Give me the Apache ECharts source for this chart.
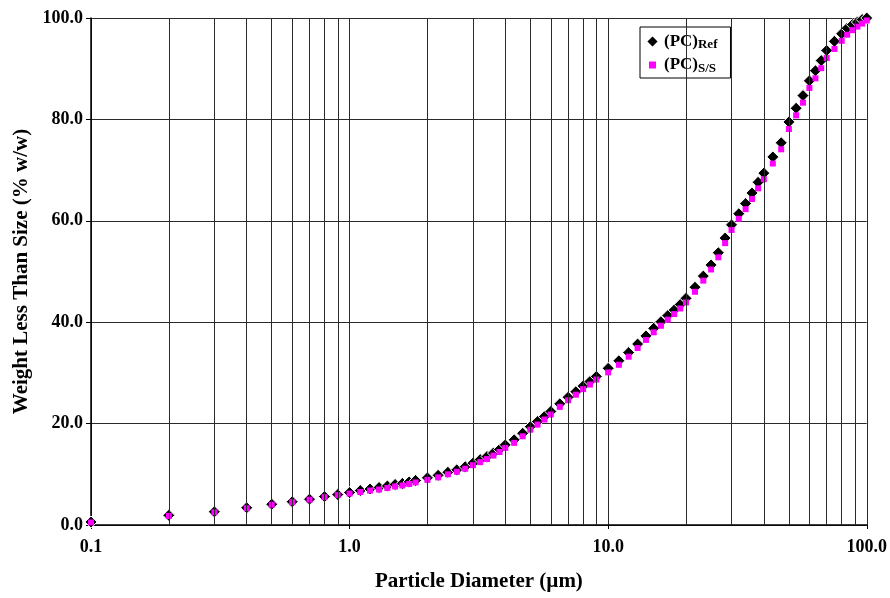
<!DOCTYPE html>
<html>
<head>
<meta charset="utf-8">
<script src="https://cdn.jsdelivr.net/npm/echarts@6.0.0/dist/echarts.min.js"></script>
<style>
    html, body { margin: 0; padding: 0; background: #fff; }
    #chart { width: 890px; height: 598px; }
</style>
</head>
<body>
<div id="chart"></div>
<script>
    // particle diameters (um)
    var sizes = [
        0.1, 0.2, 0.3, 0.4, 0.5, 0.6, 0.7, 0.8, 0.9, 1.0,
        1.1, 1.2, 1.3, 1.4, 1.5, 1.6, 1.7, 1.8,
        2.0, 2.2, 2.4, 2.6, 2.8, 3.0, 3.2, 3.4, 3.6, 3.8, 4.0,
        4.33, 4.67, 5.0, 5.33, 5.67, 6.0,
        6.5, 7.0, 7.5, 8.0, 8.5, 9.0,
        10, 11, 12, 13, 14, 15, 16, 17, 18, 19, 20,
        21.67, 23.33, 25, 26.67, 28.33, 30,
        32, 34, 36, 38, 40,
        43.33, 46.67, 50, 53.33, 56.67, 60, 63.33, 66.67, 70,
        75, 80, 84, 88, 92, 96, 100
    ];
    // (PC)Ref cumulative % w/w
    var refVals = [
        0.6, 1.9, 2.6, 3.4, 4.1, 4.6, 5.1, 5.6, 6.0, 6.4,
        6.8, 7.1, 7.4, 7.7, 8.0, 8.2, 8.5, 8.8,
        9.3, 9.8, 10.4, 10.9, 11.5, 12.2, 12.9, 13.5, 14.2, 14.9, 15.8,
        16.8, 18.1, 19.4, 20.4, 21.4, 22.4,
        23.9, 25.2, 26.3, 27.4, 28.3, 29.3,
        30.9, 32.4, 34.0, 35.7, 37.3, 38.8, 40.1, 41.3, 42.4, 43.5, 44.7,
        46.9, 49.1, 51.3, 53.7, 56.6, 59.2,
        61.4, 63.4, 65.5, 67.6, 69.4,
        72.6, 75.4, 79.5, 82.2, 84.7, 87.6, 89.6, 91.6, 93.6,
        95.4, 96.9, 98.0, 98.7, 99.2, 99.7, 100.0
    ];
    // (PC)S/S cumulative % w/w
    var ssVals = [
        0.5, 1.8, 2.5, 3.3, 4.0, 4.5, 5.0, 5.5, 5.9, 6.2,
        6.5, 6.8, 7.0, 7.3, 7.6, 7.8, 8.1, 8.4,
        8.9, 9.4, 10.0, 10.5, 11.1, 11.8, 12.4, 13.0, 13.7, 14.4, 15.2,
        16.2, 17.5, 18.8, 19.8, 20.8, 21.8,
        23.3, 24.6, 25.7, 26.8, 27.7, 28.7,
        30.1, 31.6, 33.2, 34.9, 36.5, 38.0, 39.3, 40.5, 41.6, 42.7, 43.9,
        46.0, 48.2, 50.4, 52.8, 55.6, 58.2,
        60.4, 62.3, 64.3, 66.4, 68.2,
        71.3, 74.1, 78.1, 80.8, 83.3, 86.2, 88.1, 90.1, 92.1,
        93.9, 95.5, 96.7, 97.6, 98.3, 98.9, 99.5
    ];
    var xTickLabels = ['0.1', '1.0', '10.0', '100.0'];
    var minorGrid = [0.2, 0.3, 0.4, 0.5, 0.6, 0.7, 0.8, 0.9,
        2, 3, 4, 5, 6, 7, 8, 9,
        20, 30, 40, 50, 60, 70, 80, 90];

    var serif = 'Liberation Serif';
    var gridColor = '#2a2a2a';

    var chart = echarts.init(document.getElementById('chart'));

    chart.setOption({
        backgroundColor: '#fff',
        animation: false,
        grid: {
            left: 91,
            right: 23,
            top: 18,
            bottom: 73
        },
        legend: {
            orient: 'vertical',
            left: 640,
            top: 27,
            padding: [6, 13, 3, 5],
            itemGap: 5,
            itemWidth: 13,
            itemHeight: 13,
            backgroundColor: '#fff',
            borderColor: '#000',
            borderWidth: 1,
            borderRadius: 0,
            data: [
                {name: '(PC)Ref', icon: 'diamond'},
                {name: '(PC)S/S', icon: 'path://M0,0L0.001,0L0,0.001Z M3,3H10V10H3Z M13,13L12.999,13L13,12.999Z'}
            ],
            formatter: function (name) {
                return '{a|(PC)}{b|' + name.slice(4) + '}';
            },
            textStyle: {
                rich: {
                    a: {
                        fontFamily: serif,
                        fontWeight: 'bold',
                        fontSize: 17,
                        color: '#000',
                        lineHeight: 20
                    },
                    b: {
                        fontFamily: serif,
                        fontWeight: 'bold',
                        fontSize: 13,
                        color: '#000',
                        lineHeight: 12,
                        verticalAlign: 'bottom'
                    }
                }
            }
        },
        xAxis: {
            type: 'log',
            logBase: 10,
            min: 0.1,
            max: 100,
            name: 'Particle Diameter (\u00b5m)',
            nameLocation: 'middle',
            nameGap: 46,
            nameTextStyle: {
                fontFamily: serif,
                fontWeight: 'bold',
                fontSize: 21,
                color: '#000'
            },
            axisLine: {
                onZero: false,
                lineStyle: {color: '#000', width: 1.5}
            },
            axisTick: {
                show: true,
                inside: false,
                length: 4,
                lineStyle: {color: '#000'}
            },
            axisLabel: {
                margin: 13,
                fontFamily: serif,
                fontWeight: 'bold',
                fontSize: 18,
                color: '#000',
                formatter: function (v) {
                    var i = Math.round(Math.log10(v)) + 1;
                    return xTickLabels[i] || '';
                }
            },
            splitLine: {
                show: true,
                lineStyle: {color: gridColor, width: 1}
            },
            minorTick: {show: false}
        },
        yAxis: {
            type: 'value',
            min: 0,
            max: 100,
            interval: 20,
            name: 'Weight Less Than Size (% w/w)',
            nameLocation: 'middle',
            nameGap: 56,
            nameTextStyle: {
                fontFamily: serif,
                fontWeight: 'bold',
                fontSize: 21,
                color: '#000'
            },
            axisLine: {
                show: true,
                lineStyle: {color: '#000', width: 1.5}
            },
            axisTick: {
                show: true,
                length: 5,
                lineStyle: {color: '#000'}
            },
            axisLabel: {
                margin: 8,
                fontFamily: serif,
                fontWeight: 'bold',
                fontSize: 18,
                color: '#000',
                formatter: function (v) {
                    return v.toFixed(1);
                }
            },
            splitLine: {
                show: true,
                lineStyle: {color: gridColor, width: 1}
            }
        },
        series: [
            {
                // minor vertical grid lines of the log axis
                name: 'grid',
                type: 'line',
                data: [],
                z: 1,
                silent: true,
                markLine: {
                    silent: true,
                    symbol: ['none', 'none'],
                    label: {show: false},
                    lineStyle: {color: gridColor, width: 1, type: 'solid'},
                    emphasis: {disabled: true},
                    data: minorGrid.map(function (v) {
                        return {xAxis: v};
                    })
                }
            },
            {
                name: '(PC)Ref',
                type: 'scatter',
                symbol: 'diamond',
                symbolSize: 12,
                z: 3,
                itemStyle: {
                    color: '#000',
                    borderColor: '#fff',
                    borderWidth: 1,
                    opacity: 1
                },
                data: sizes.map(function (s, i) {
                    return [s, refVals[i]];
                })
            },
            {
                name: '(PC)S/S',
                type: 'scatter',
                symbol: 'rect',
                symbolSize: 6,
                z: 4,
                itemStyle: {
                    color: '#ff00ff',
                    opacity: 1
                },
                data: sizes.map(function (s, i) {
                    return [s, ssVals[i]];
                })
            }
        ]
    });
</script>
</body>
</html>
